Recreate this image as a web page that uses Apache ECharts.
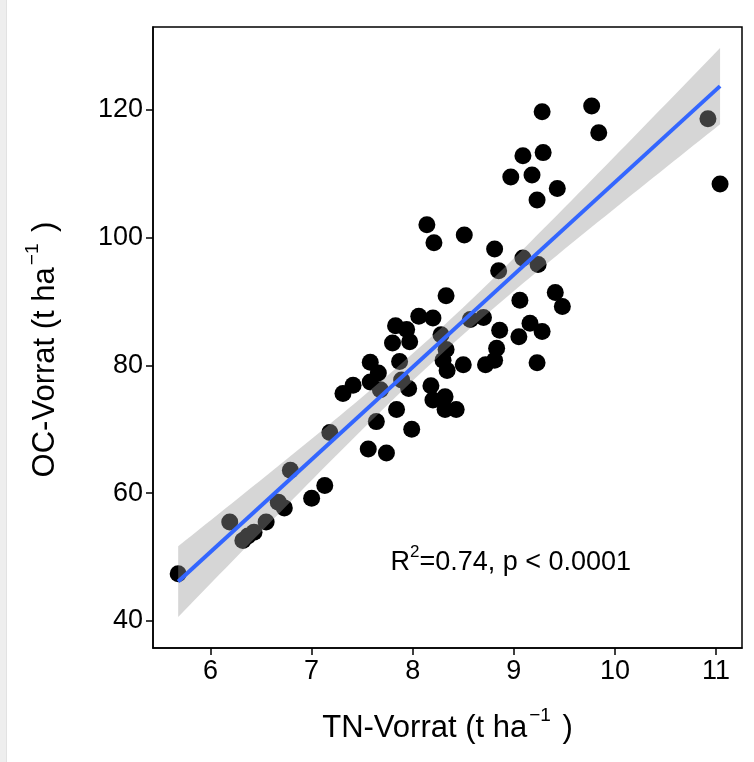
<!DOCTYPE html>
<html>
<head>
<meta charset="utf-8">
<script src="https://cdn.jsdelivr.net/npm/echarts@6/dist/echarts.min.js"></script>
<style>
html,body{margin:0;padding:0;background:#fff;}
#chart{width:754px;height:762px;}
</style>
</head>
<body>
<div id="chart"></div>
<script>
// ---- data ----
const tnVorrat = [
  5.68, 6.19, 6.32, 6.37, 6.43, 6.55, 6.67, 6.73, 6.79, 7.00, 7.13, 7.18,
  7.31, 7.41, 7.58, 7.58, 7.66, 7.68, 7.80, 7.83, 7.94, 7.97, 7.87, 7.89,
  7.96, 7.84, 7.64, 7.99, 7.56, 7.74,
  8.06, 8.20, 8.28, 8.33, 8.33, 8.30, 8.50, 8.34, 8.18, 8.20, 8.32, 8.32, 8.43,
  8.57, 8.70, 8.86, 9.05, 9.16, 9.28, 8.83, 8.81, 8.72, 9.23,
  8.14, 8.21, 8.51, 8.81, 9.09, 9.24, 8.85, 9.06, 9.41, 9.48,
  9.28, 9.09, 9.29, 8.97, 9.18, 9.43, 9.23, 9.77, 9.84, 10.92, 11.04
];
const ocVorrat = [
  47.4, 55.5, 52.6, 53.3, 53.9, 55.5, 58.6, 57.7, 63.6, 59.2, 61.2, 69.5,
  75.6, 76.9, 77.4, 80.5, 78.8, 76.2, 83.5, 86.2, 85.6, 83.7, 80.6, 77.7,
  76.4, 73.1, 71.2, 70.0, 66.9, 66.3,
  87.7, 87.4, 84.8, 82.5, 90.9, 80.8, 80.1, 79.2, 76.8, 74.6, 75.1, 73.1, 73.1,
  87.2, 87.5, 85.5, 84.5, 86.6, 85.3, 82.7, 80.8, 80.1, 80.4,
  102.0, 99.2, 100.4, 98.2, 96.8, 95.8, 94.8, 90.2, 91.4, 89.2,
  119.7, 112.8, 113.3, 109.5, 109.8, 107.7, 105.9, 120.6, 116.4, 118.6, 108.4
];
const xTicks = [6, 7, 8, 9, 10, 11];
const yTicks = [40, 60, 80, 100, 120];
const xRange = [5.431, 11.257];
const yRange = [35.77, 132.96];
const annotationPos = [8.97, 49.5];
const annotationText = ['R', '2', '=0.74, p < 0.0001'];

// ---- linear fit with 95% confidence band (as geom_smooth(method = "lm")) ----
const n = tnVorrat.length;
const mx = tnVorrat.reduce((a, b) => a + b, 0) / n;
const my = ocVorrat.reduce((a, b) => a + b, 0) / n;
let sxx = 0, sxy = 0;
for (let i = 0; i < n; i++) { sxx += (tnVorrat[i] - mx) ** 2; sxy += (tnVorrat[i] - mx) * (ocVorrat[i] - my); }
const slope = sxy / sxx, icpt = my - slope * mx;
let sse = 0;
for (let i = 0; i < n; i++) sse += (ocVorrat[i] - icpt - slope * tnVorrat[i]) ** 2;
const sres = Math.sqrt(sse / (n - 2));
const tq = 1.993;
const xMin = Math.min(...tnVorrat), xMax = Math.max(...tnVorrat);
const band = [];
for (let i = 0; i <= 80; i++) {
  const x = xMin + (xMax - xMin) * i / 80;
  const yh = icpt + slope * x;
  const se = sres * Math.sqrt(1 / n + (x - mx) ** 2 / sxx);
  band.push([x, yh - tq * se, yh + tq * se]);
}
const fitLine = [[xMin, icpt + slope * xMin], [xMax, icpt + slope * xMax]];

const FONT = "'Liberation Sans', Arial, Helvetica, sans-serif";
const chart = echarts.init(document.getElementById('chart'), null, { renderer: 'canvas' });

const titleRich = {
  n: { fontSize: 31, fontFamily: FONT, color: '#000', lineHeight: 38, verticalAlign: 'bottom' },
  s: { fontSize: 19, fontFamily: FONT, color: '#000', lineHeight: 19, verticalAlign: 'top', padding: [0, 3, 0, 2] }
};

chart.setOption({
  animation: false,
  backgroundColor: '#fff',
  graphic: [
    { type: 'rect', left: 0, top: 0, shape: { width: 6, height: 762 }, style: { fill: '#eeeeee' }, silent: true },
    { type: 'rect', left: 6, top: 0, shape: { width: 1, height: 762 }, style: { fill: '#e2e2e2' }, silent: true }
  ],
  grid: {
    left: 153, top: 27, width: 589, height: 621,
    show: true, borderColor: '#000', borderWidth: 1.5, backgroundColor: 'transparent'
  },
  xAxis: {
    type: 'value', min: xRange[0], max: xRange[1],
    axisLine: { show: true, onZero: false, lineStyle: { color: '#000', width: 1.5 } },
    axisTick: { show: true, customValues: xTicks, length: 7, lineStyle: { color: '#000', width: 1.5 } },
    axisLabel: { customValues: xTicks, color: '#000', fontSize: 27, fontFamily: FONT, margin: 10 },
    splitLine: { show: false },
    name: '{n|TN-Vorrat (t ha}{s|−1}{n| )}',
    nameLocation: 'middle', nameGap: 58,
    nameTextStyle: { fontFamily: FONT, color: '#000', rich: titleRich }
  },
  yAxis: {
    type: 'value', min: yRange[0], max: yRange[1],
    axisLine: { show: true, onZero: false, lineStyle: { color: '#000', width: 1.5 } },
    axisTick: { show: true, customValues: yTicks, length: 7, lineStyle: { color: '#000', width: 1.5 } },
    axisLabel: { customValues: yTicks, color: '#000', fontSize: 27, fontFamily: FONT, margin: 10 },
    splitLine: { show: false },
    name: '{n|OC-Vorrat (t ha}{s|−1}{n| )}',
    nameLocation: 'middle', nameGap: 92, nameRotate: 90,
    nameTextStyle: { fontFamily: FONT, color: '#000', rich: titleRich, padding: [0, 24, 0, 0] }
  },
  series: [
    {
      type: 'scatter', z: 2,
      data: tnVorrat.map((x, i) => [x, ocVorrat[i]]),
      symbolSize: 17,
      itemStyle: { color: '#000', opacity: 1 },
      silent: true
    },
    {
      type: 'custom', z: 3, silent: true,
      data: band,
      renderItem: function (params, api) {
        if (params.dataIndex !== 0) return null;
        const upper = band.map(d => api.coord([d[0], d[2]]));
        const lower = band.map(d => api.coord([d[0], d[1]])).reverse();
        return {
          type: 'polygon',
          shape: { points: upper.concat(lower) },
          style: { fill: 'rgba(153,153,153,0.4)', stroke: null }
        };
      }
    },
    {
      type: 'line', z: 4, silent: true,
      data: fitLine, showSymbol: false, symbol: 'none',
      lineStyle: { color: '#3366FF', width: 4 }
    },
    {
      type: 'scatter', z: 5, silent: true,
      data: [annotationPos], symbolSize: 0,
      itemStyle: { color: '#000' },
      label: {
        show: true, position: 'inside', color: '#000',
        textBorderWidth: 0, textBorderColor: 'transparent', opacity: 1,
        formatter: '{r|' + annotationText[0] + '}{s|' + annotationText[1] + '}{r|' + annotationText[2] + '}',
        rich: {
          r: { fontSize: 27, fontFamily: FONT, color: '#000', lineHeight: 32, verticalAlign: 'bottom', textBorderWidth: 0 },
          s: { fontSize: 17, fontFamily: FONT, color: '#000', lineHeight: 17, verticalAlign: 'top', textBorderWidth: 0 }
        }
      }
    }
  ]
});
</script>
</body>
</html>
